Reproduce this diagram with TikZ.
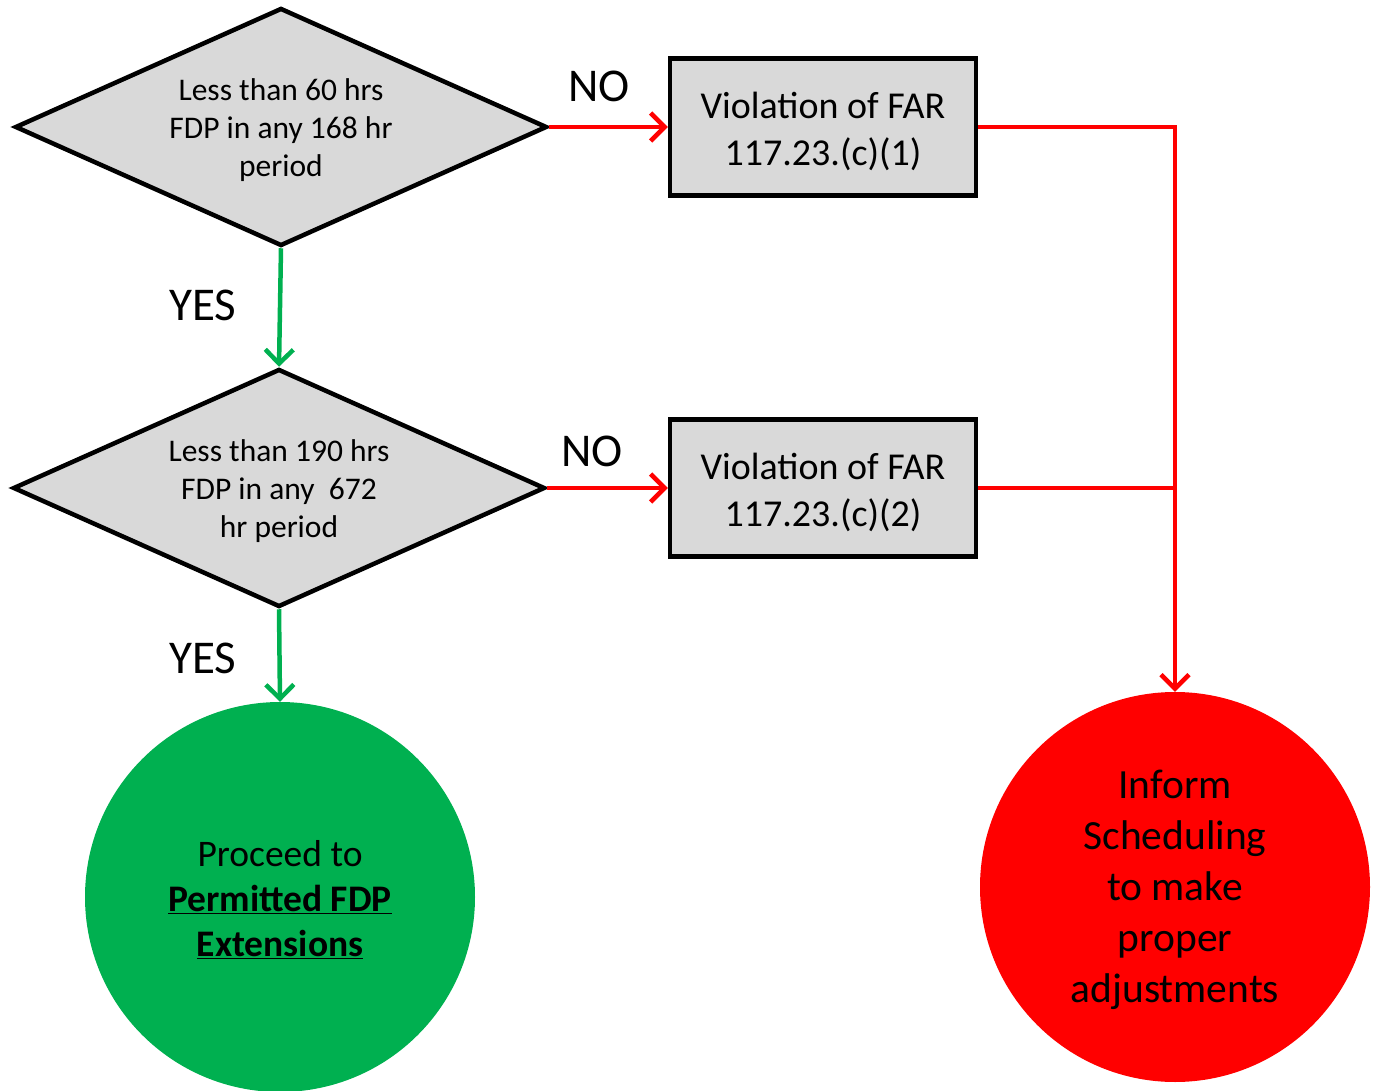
\documentclass[tikz,border=0pt]{standalone}
\usepackage{fontspec}
\setmainfont{Carlito}
\usetikzlibrary{shapes.geometric,arrows.meta}
\definecolor{boxgray}{HTML}{D9D9D9}
\definecolor{okgreen}{HTML}{00B050}
\definecolor{badred}{HTML}{FF0000}
\begin{document}
\begin{tikzpicture}[x=1pt,y=-1pt,
  decision/.style={shape=diamond, draw=black, fill=boxgray, line width=4.5pt,
    minimum width=532pt, minimum height=238pt, aspect=2.235, inner sep=0pt},
  dtext/.style={align=center, inner sep=0pt, font=\fontsize{31.5}{38}\selectfont},
  viobox/.style={shape=rectangle, draw=black, fill=boxgray, line width=4.5pt,
    minimum width=306pt, minimum height=137pt},
  btext/.style={align=center, inner sep=0pt, font=\fontsize{38}{47}\selectfont},
  endcircle/.style={shape=circle, minimum size=390pt, inner sep=0pt},
  ctext/.style={align=center, inner sep=0pt},
  yesarrow/.style={draw=okgreen, line width=4.5pt, -{Straight Barb[length=14pt,width=28pt]}},
  noarrow/.style={draw=badred, line width=4.5pt, -{Straight Barb[length=14pt,width=28pt]}},
  noline/.style={draw=badred, line width=4.5pt},
  lbl/.style={font=\fontsize{47}{54}\selectfont, inner sep=0pt}]
\useasboundingbox (0,0) rectangle (1377,1091);

\node[decision] (d1) at (281,127) {};
\node[dtext] (d1t) at ([yshift=-3pt]d1.center) {Less than 60 hrs\\FDP in any 168 hr\\period};
\node[decision] (d2) at (279,488) {};
\node[dtext] (d2t) at ([yshift=-3pt]d2.center) {Less than 190 hrs\\FDP in any\ \ 672\\hr period};
\node[viobox] (b1) at (823,127) {};
\node[btext] (b1t) at ([yshift=-4pt]b1.center) {Violation of FAR\\117.23.(c)(1)};
\node[viobox] (b2) at (823,488) {};
\node[btext] (b2t) at ([yshift=-4pt]b2.center) {Violation of FAR\\117.23.(c)(2)};
\node[endcircle, fill=okgreen] (c1) at (280,897) {};
\node[ctext, font=\fontsize{37.5}{45}\selectfont] (c1t) at ([yshift=-3pt]c1.center)
  {Proceed to\\\textbf{\underline{Permitted FDP}}\\\textbf{\underline{Extensions}}};
\node[endcircle, fill=badred] (c2) at (1175,887) {};
\node[ctext, font=\fontsize{41.5}{51}\selectfont] (c2t) at ([yshift=-3pt]c2.center)
  {Inform\\Scheduling\\to make\\proper\\adjustments};

\coordinate (j1) at (b1.east -| c2.north);
\coordinate (j2) at (b2.east -| c2.north);

\draw[yesarrow] (d1.south) -- (d2.north);
\draw[yesarrow] (d2.south) -- (c1.north);
\draw[noarrow] (d1.east) -- (b1.west);
\draw[noarrow] (d2.east) -- (b2.west);
\draw[noarrow] (b1.east) -- (j1) -- (c2.north);
\draw[noline] (b2.east) -- (j2);

\node[lbl] (no1) at (599,86) {NO};
\node[lbl] (no2) at (592,451) {NO};
\node[lbl] (yes1) at (203,305) {YES};
\node[lbl] (yes2) at (203,658) {YES};
\end{tikzpicture}
\end{document}
